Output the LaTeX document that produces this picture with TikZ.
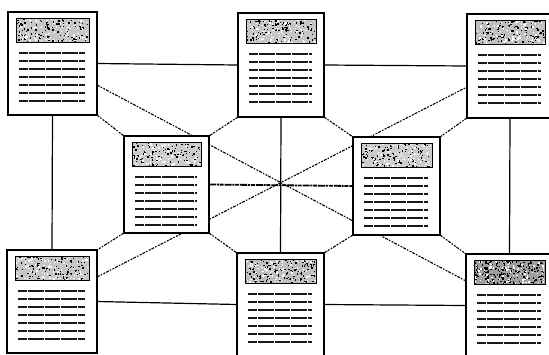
\documentclass[tikz,border=0pt]{standalone}
\usetikzlibrary{calc}
\pgfdeclarelayer{bg}
\pgfsetlayers{bg,main}
\newcommand\docinner[3]{%
  \coordinate (#1h) at ($(#1.north west)+(8,6.5)$);
  \coordinate (#1hb) at ($(#1.north east)+(-8,30.5)$);
  \fill[#2] (#1h) rectangle (#1hb);
  \begin{scope}[shift={(#1h)}]
    \path let \p1=($(#1hb)-(#1h)$) in
      \pgfextra{\pgfmathsetmacro\hw{\x1-1.4}\xdef\hdrw{\hw}};
    \foreach \k in {1,...,#3}{%
      \pgfmathsetmacro\ra{rnd*\hdrw}\pgfmathsetmacro\rb{rnd*22.6}%
      \fill[black] (\ra,\rb) rectangle ++(1.4,1.4);}
    \foreach \k in {1,...,90}{%
      \pgfmathsetmacro\ra{rnd*\hdrw}\pgfmathsetmacro\rb{rnd*22.6}%
      \fill[white] (\ra,\rb) rectangle ++(1.4,1.4);}
  \end{scope}
  \draw[line width=0.9pt] (#1h) rectangle (#1hb);
  \foreach \i in {0,...,6}{%
    \draw[txtline] ($(#1.north west)+(11,41+8*\i)$) -- ($(#1.north east)+(-12,41+8*\i)$);}
}
\begin{document}
\begin{tikzpicture}[x=1pt,y=-1pt,
  docbox/.style={draw,line width=2pt,fill=white,inner sep=0pt,outer sep=0pt},
  solidlink/.style={line width=1.2pt},
  dashlink/.style={line width=1.1pt,dash pattern=on 3pt off 1.2pt on 1.5pt off 1.5pt on 2pt off 1pt},
  midlink/.style={line width=1.8pt,dash pattern=on 7pt off 0.8pt on 2pt off 0.8pt on 4pt off 1pt},
  txtline/.style={line width=1.2pt,black!90,dash pattern=on 9pt off 0.5pt on 4pt off 0.6pt on 12pt off 0.5pt on 6pt off 0.6pt}]
\useasboundingbox (0,0) rectangle (549,354);
\clip (0,0) rectangle (549,354);
\pgfmathsetseed{7}
% boxes
\node[docbox,minimum width=89pt,minimum height=103pt] (TL) at (52.5,63.5) {};
\node[docbox,minimum width=86pt,minimum height=104pt] (TC) at (281,65) {};
\node[docbox,minimum width=86pt,minimum height=104pt] (TR) at (510,66) {};
\node[docbox,minimum width=85pt,minimum height=97pt] (ML) at (166.5,184.5) {};
\node[docbox,minimum width=87pt,minimum height=98pt] (MR) at (396.5,186) {};
\node[docbox,minimum width=90pt,minimum height=103pt] (BL) at (52,301.5) {};
\node[docbox,minimum width=87pt,minimum height=103pt] (BC) at (280.5,304.5) {};
\node[docbox,minimum width=87pt,minimum height=103pt] (BR) at (509.5,305.5) {};
% contents
\docinner{TL}{gray!45}{110}
\docinner{TC}{gray!45}{110}
\docinner{TR}{gray!50}{120}
\docinner{ML}{gray!40}{100}
\docinner{MR}{gray!40}{100}
\docinner{BL}{gray!45}{110}
\docinner{BC}{gray!50}{130}
\docinner{BR}{gray!75}{200}
% connectors
\begin{pgfonlayer}{bg}
\draw[solidlink] (TL.east) -- (TC.west);
\draw[solidlink] (TC.east) -- (TR.west);
\draw[solidlink] (BL.east) -- (BC.west);
\draw[solidlink] (BC.east) -- (BR.west);
\draw[solidlink] (TL.south) -- (BL.north);
\draw[solidlink] (TC.south) -- (BC.north);
\draw[solidlink] (TR.south) -- (BR.north);
\draw[midlink] (ML.east) -- (MR.west);
\draw[dashlink] ($(TL.south east)+(0,-30)$) -- ($(BR.north west)+(0,27)$);
\draw[dashlink] ($(BL.north east)+(0,27)$) -- ($(TR.south west)+(0,-31)$);
\draw[dashlink] (TL.south east) -- (ML.north west);
\draw[dashlink] (TC.south west) -- (ML.north east);
\draw[dashlink] (TC.south east) -- (MR.north west);
\draw[dashlink] (TR.south west) -- (MR.north east);
\draw[dashlink] (ML.south west) -- (BL.north east);
\draw[dashlink] (ML.south east) -- (BC.north west);
\draw[dashlink] (MR.south west) -- (BC.north east);
\draw[dashlink] (MR.south east) -- (BR.north west);
\end{pgfonlayer}
\end{tikzpicture}
\end{document}
